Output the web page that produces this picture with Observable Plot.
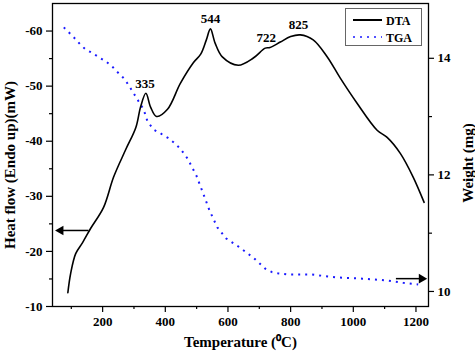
<!DOCTYPE html>
<html><head><meta charset="utf-8">
<script src="https://cdn.jsdelivr.net/npm/d3@7"></script>
<script src="https://cdn.jsdelivr.net/npm/@observablehq/plot@0.6"></script>
<style>
body{margin:0;background:#fff}
#wrap{position:relative;width:475px;height:354px;font-family:"Liberation Serif","Times New Roman",serif;font-weight:bold}
#legend{position:absolute;left:345px;top:8px;width:77px;height:38px;border:1px solid #666;background:#fff;box-sizing:border-box}
</style>
</head><body><div id="wrap"></div>
<script>
// DTA (heat flow, mW) vs temperature (°C)
const dtaTemp = [89, 98, 114, 136, 162, 203, 235, 273, 306, 321, 338, 353, 372, 407, 448, 490, 513, 531, 544, 559, 582, 633, 681, 719, 734, 767, 800, 831, 872, 917, 958, 1012, 1076, 1108, 1150, 1191, 1226];
const dtaHeat = [-12.5, -16, -19.6, -21.6, -24.2, -28, -33.5, -38.4, -42.5, -46.2, -48.7, -46.2, -44.5, -45.8, -50.5, -54.3, -55.8, -58.4, -60.4, -57.8, -55.3, -53.8, -55.1, -56.9, -57.0, -58.0, -59.0, -59.3, -58.4, -55.3, -51.5, -46.9, -42.0, -40.7, -37.8, -33.5, -28.9];
// TGA (weight, mg) vs temperature (°C)
const tgaTemp = [76, 108, 128, 146, 168, 187, 210, 232, 248, 267, 283, 299, 315, 331, 343, 362, 385, 407, 426, 448, 471, 499, 521, 541, 566, 594, 636, 681, 719, 741, 761, 792, 868, 948, 1028, 1108, 1159, 1207];
const tgaWeight = [14.53, 14.36, 14.24, 14.15, 14.09, 14.02, 13.95, 13.85, 13.76, 13.66, 13.54, 13.40, 13.26, 13.12, 12.92, 12.78, 12.71, 12.64, 12.56, 12.45, 12.28, 11.99, 11.68, 11.39, 11.10, 10.91, 10.76, 10.58, 10.39, 10.33, 10.31, 10.29, 10.29, 10.24, 10.22, 10.19, 10.15, 10.12];
// peak annotations
const peakTemp = [335, 544, 722, 825];
const peakHeat = [-48.6, -60.4, -56.9, -59.3];
const peakLabels = ["335", "544", "722", "825"];
// axis ticks
const xMajor = [200, 400, 600, 800, 1000, 1200];
const xMinor = [100, 300, 500, 700, 900, 1100];
const yLeftMajor = [-60, -50, -40, -30, -20, -10];
const yLeftMinor = [-55, -45, -35, -25, -15];
const yRightMajor = [10, 12, 14];
const yRightMinor = [11, 13];
// arrows (which axis each curve belongs to)
const leftArrow = {temp: [155, 50], heat: -23.8};
const rightArrow = {temp: [1136, 1234], weight: 10.22};

const xDomain = [40, 1240];
const hfDomain = [-10, -65];
const wDomain = [9.742, 14.94];
const w2hf = w => hfDomain[0] + (w - wDomain[0]) / (wDomain[1] - wDomain[0]) * (hfDomain[1] - hfDomain[0]);
const hf2w = h => wDomain[0] + (h - hfDomain[0]) / (hfDomain[1] - hfDomain[0]) * (wDomain[1] - wDomain[0]);

const dta = dtaTemp.map((t, i) => ({t, v: dtaHeat[i]}));
const tga = tgaTemp.map((t, i) => ({t, v: w2hf(tgaWeight[i])}));
const peaks = peakTemp.map((t, i) => ({t, v: peakHeat[i], label: peakLabels[i]}));

const fmt = d => String(d);
const chart = Plot.plot({
  width: 475, height: 354,
  marginLeft: 52, marginRight: 47, marginTop: 3, marginBottom: 48,
  style: {fontFamily: "'Liberation Serif','Times New Roman',serif", fontWeight: "bold", fontSize: "13px", background: "#fff", color: "#000"},
  x: {domain: xDomain},
  y: {domain: hfDomain},
  marks: [
    Plot.frame({stroke: "#000", strokeWidth: 1.3}),
    Plot.axisX(xMajor, {tickSize: 6, tickPadding: 4, tickFormat: fmt, label: null, strokeWidth: 1.2}),
    Plot.axisX(xMinor, {tickSize: 3, tickFormat: () => "", label: null, strokeWidth: 1.2}),
    Plot.axisY(yLeftMajor, {anchor: "left", tickSize: 6, tickPadding: 4, tickFormat: fmt, label: null, strokeWidth: 1.2}),
    Plot.axisY(yLeftMinor, {anchor: "left", tickSize: 3, tickFormat: () => "", label: null, strokeWidth: 1.2}),
    Plot.axisY(yRightMajor.map(w2hf), {anchor: "right", tickSize: 5, tickPadding: 4, tickFormat: d => String(Math.round(hf2w(d))), label: null, strokeWidth: 1.2}),
    Plot.axisY(yRightMinor.map(w2hf), {anchor: "right", tickSize: 3, tickFormat: () => "", label: null, strokeWidth: 1.2}),
    Plot.line(tga, {x: "t", y: "v", stroke: "#1a1aff", strokeWidth: 2, strokeDasharray: "2,5", strokeLinecap: "butt"}),
    Plot.line(dta, {x: "t", y: "v", stroke: "#000", strokeWidth: 1.6, curve: "catmull-rom"}),
    Plot.text(peaks, {x: "t", y: "v", text: "label", dy: -10, fontSize: 13}),
    // left arrow
    Plot.link([0], {x1: leftArrow.temp[0], x2: leftArrow.temp[1] + 15, y1: leftArrow.heat, y2: leftArrow.heat, stroke: "#000", strokeWidth: 1.5}),
    Plot.dot([0], {x: leftArrow.temp[1], y: leftArrow.heat, dx: 5, symbol: "triangle", rotate: -90, r: 3.6, fill: "#000", stroke: "none"}),
    // right arrow
    Plot.link([0], {x1: rightArrow.temp[0], x2: rightArrow.temp[1] - 15, y1: w2hf(rightArrow.weight), y2: w2hf(rightArrow.weight), stroke: "#000", strokeWidth: 1.5}),
    Plot.dot([0], {x: rightArrow.temp[1], y: w2hf(rightArrow.weight), dx: -5, symbol: "triangle", rotate: 90, r: 3.6, fill: "#000", stroke: "none"}),
    // axis titles
    Plot.text(["Temperature (\u2070C)"], {frameAnchor: "bottom", dy: 40, fontSize: 15, textAnchor: "middle"}),
    Plot.text(["Heat flow (Endo up)(mW)"], {frameAnchor: "left", dx: -42, dy: 10, rotate: -90, fontSize: 15, textAnchor: "middle"}),
    Plot.text(["Weight (mg)"], {frameAnchor: "right", dx: 40, dy: 8, rotate: -90, fontSize: 15, textAnchor: "middle"})
  ]
});
const wrap = document.getElementById("wrap");
wrap.appendChild(chart);
const legend = document.createElement("div");
legend.id = "legend";
legend.innerHTML = `<svg width="77" height="38" style="position:absolute;left:-1px;top:-1px">
<line x1="8" x2="37" y1="12" y2="12" stroke="#000" stroke-width="2"/>
<text x="41" y="16.5" font-size="12" font-family="'Liberation Serif',serif" font-weight="bold">DTA</text>
<line x1="8" x2="37" y1="29" y2="29" stroke="#1a1aff" stroke-width="1.5" stroke-dasharray="2,5"/>
<text x="41" y="33.5" font-size="12" font-family="'Liberation Serif',serif" font-weight="bold">TGA</text>
</svg>`;
wrap.appendChild(legend);
</script>
</body></html>
